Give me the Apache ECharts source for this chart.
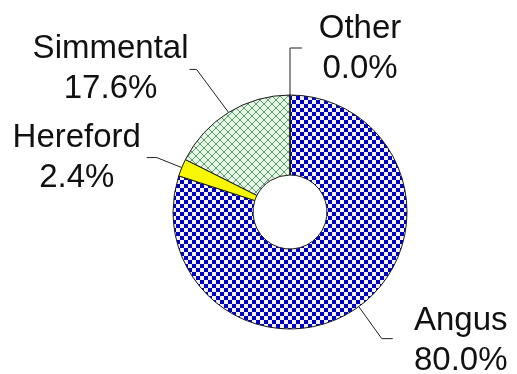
<!DOCTYPE html>
<html>
<head>
<meta charset="utf-8">
<script src="https://cdn.jsdelivr.net/npm/echarts@6/dist/echarts.min.js"></script>
<style>
  html, body { margin: 0; padding: 0; background: #ffffff; }
  #chart { width: 517px; height: 374px; }
</style>
</head>
<body>
<div id="chart"></div>
<script>
// Breed shares of the herd (percent)
const categories = ['Angus', 'Hereford', 'Simmental', 'Other'];
const shares = [80.0, 2.4, 17.6, 0.0];

// Fill patterns drawn onto small tiles
function checkerTile(cell, fg, bg) {
  const c = document.createElement('canvas');
  c.width = c.height = cell * 2;
  const g = c.getContext('2d');
  g.fillStyle = bg; g.fillRect(0, 0, cell * 2, cell * 2);
  g.fillStyle = fg;
  g.fillRect(0, 0, cell, cell);
  g.fillRect(cell, cell, cell, cell);
  return c;
}
function crossTile(size, fg, bg) {
  const c = document.createElement('canvas');
  c.width = c.height = size;
  const g = c.getContext('2d');
  g.fillStyle = bg; g.fillRect(0, 0, size, size);
  g.strokeStyle = fg; g.lineWidth = 1;
  g.beginPath();
  g.moveTo(0, 0); g.lineTo(size, size);
  g.moveTo(size, 0); g.lineTo(0, size);
  g.stroke();
  return c;
}

const fills = {
  Angus: { image: checkerTile(4, '#0000c4', '#f4f4ff'), repeat: 'repeat' },
  Hereford: '#f7f700',
  Simmental: { image: crossTile(8, '#5f9a6c', '#e6f6e6'), repeat: 'repeat' },
  Other: '#ffffff'
};

// Where each label and its leader elbow sit, relative to the slice's outer midpoint
const labelPlacement = {
  Angus:     { label: [102, 34],   elbow: [23, 32],   end: [34, 32] },
  Hereford:  { label: [-105, -10], elbow: [-25, -10], end: [-35, -10] },
  Simmental: { label: [-118, -44], elbow: [-32, -43], end: [-39, -43] },
  Other:     { label: [70, -46],   elbow: [0, -47],   end: [12, -47] }
};

const chart = echarts.init(document.getElementById('chart'), null, { renderer: 'canvas' });

chart.setOption({
  backgroundColor: '#ffffff',
  animation: false,
  series: [{
    type: 'pie',
    center: [290, 212],
    radius: [37, 117],
    startAngle: 90,
    clockwise: true,
    avoidLabelOverlap: false,
    minShowLabelAngle: 0,
    data: categories.map((name, i) => ({
      name: name,
      value: shares[i],
      itemStyle: { color: fills[name] }
    })),
    itemStyle: { borderColor: '#1a1a1a', borderWidth: 1 },
    label: {
      show: true,
      formatter: p => p.name + '\n' + p.value.toFixed(1) + '%',
      fontFamily: 'Liberation Sans, Arial, sans-serif',
      fontSize: 33,
      lineHeight: 40,
      color: '#111111',
      align: 'center'
    },
    labelLine: {
      show: true,
      lineStyle: { color: '#222222', width: 1 }
    },
    labelLayout: function (params) {
      const name = categories[params.dataIndex];
      const place = labelPlacement[name];
      const start = params.labelLinePoints ? params.labelLinePoints[0] : null;
      if (!start) return {};
      return {
        x: start[0] + place.label[0],
        y: start[1] + place.label[1],
        align: 'center',
        verticalAlign: 'middle',
        labelLinePoints: [
          [start[0], start[1]],
          [start[0] + place.elbow[0], start[1] + place.elbow[1]],
          [start[0] + place.end[0], start[1] + place.end[1]]
        ]
      };
    },
    emphasis: { disabled: true }
  }]
});
</script>
</body>
</html>
